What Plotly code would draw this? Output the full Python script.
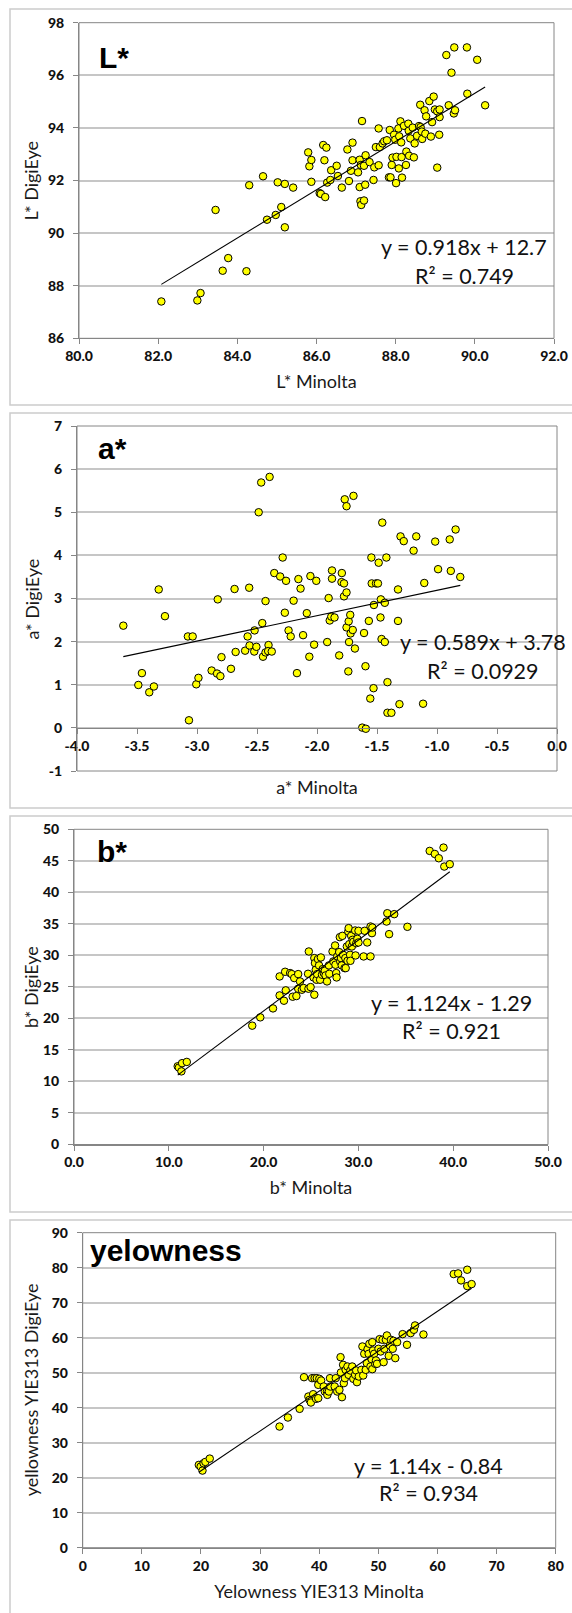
import plotly.graph_objects as go

W, H = 572, 1613

# ---------------- data ----------------
# Panel 1: L*
L_minolta = [82.08,82.99,83.07,83.45,83.63,83.77,84.23,84.30,84.65,84.75,84.97,85.02,85.11,85.20,85.20,85.41,85.79,85.82,85.87,85.87,
             86.08,86.11,86.17,86.20,86.22,86.25,86.27,86.35,86.37,86.51,86.54,86.64,86.78,86.82,86.91,86.87,86.91,87.05,87.09,87.09,
             87.15,87.11,87.13,87.20,87.12,87.20,87.23,87.24,87.34,87.46,87.44,87.50,87.57,87.57,87.60,87.67,87.71,87.78,87.83,87.87,
             87.85,87.90,87.92,87.96,87.99,88.02,88.01,88.07,88.09,88.08,88.12,88.14,88.15,88.16,88.21,88.26,88.27,88.32,88.33,88.34,
             88.37,88.43,88.46,88.48,88.54,88.59,88.62,88.63,88.66,88.67,88.73,88.75,88.77,88.85,88.89,88.92,88.96,88.99,89.05,89.05,
             89.10,89.11,89.11,89.28,89.34,89.41,89.48,89.47,89.50,89.80,89.81,90.06,90.26]
L_digieye = [87.40,87.44,87.72,90.88,88.57,89.05,88.55,91.82,92.16,90.51,90.69,91.93,90.99,91.87,90.22,91.73,93.07,92.54,92.78,91.95,
             91.52,91.49,93.35,92.77,91.37,93.25,91.92,92.02,92.39,92.56,92.17,91.73,93.18,91.98,93.44,92.37,92.77,92.31,92.79,91.75,
             94.26,91.21,91.07,91.24,92.59,92.56,91.84,92.96,92.70,92.50,92.02,93.27,93.98,92.58,93.27,93.41,93.49,93.53,92.12,92.12,
             93.92,92.59,92.87,93.74,93.55,92.90,91.90,93.98,93.68,92.46,94.25,93.45,92.89,92.11,94.08,92.59,93.10,94.16,93.89,92.94,
             93.60,94.01,92.88,93.41,93.70,94.07,94.88,94.03,93.86,93.58,94.67,93.78,94.44,95.02,93.67,94.22,95.19,94.70,92.49,94.63,
             93.74,94.41,94.70,96.77,94.86,96.10,97.06,94.55,94.67,97.06,95.30,96.59,94.86]
L_fit = (0.918, 12.7)

# Panel 2: a*
a_minolta = [-3.614,-3.489,-3.459,-3.398,-3.359,-3.319,-3.267,-3.076,-3.036,-3.067,-3.006,-2.988,-2.878,-2.833,-2.827,-2.805,-2.796,-2.717,-2.687,-2.678,
             -2.599,-2.578,-2.565,-2.562,-2.523,-2.520,-2.505,-2.486,-2.465,-2.456,-2.450,-2.429,-2.429,-2.404,-2.395,-2.407,-2.377,-2.356,-2.307,-2.286,
             -2.268,-2.258,-2.237,-2.219,-2.195,-2.167,-2.155,-2.137,-2.116,-2.085,-2.064,-2.055,-2.024,-2.006,-1.915,-1.903,-1.894,-1.881,-1.875,-1.875,
             -1.854,-1.815,-1.793,-1.796,-1.775,-1.775,-1.769,-1.754,-1.754,-1.754,-1.739,-1.736,-1.733,-1.723,-1.720,-1.696,-1.702,-1.684,-1.623,-1.593,
             -1.608,-1.596,-1.568,-1.556,-1.547,-1.544,-1.529,-1.526,-1.508,-1.492,-1.486,-1.471,-1.468,-1.462,-1.456,-1.435,-1.435,-1.422,-1.413,-1.413,
             -1.380,-1.325,-1.325,-1.313,-1.304,-1.277,-1.195,-1.173,-1.116,-1.106,-1.015,-0.991,-0.894,-0.885,-0.845,-0.806]
a_digieye = [2.37,0.995,1.27,0.825,0.96,3.21,2.59,2.12,2.12,0.176,1.01,1.16,1.33,1.26,2.98,1.20,1.64,1.37,3.22,1.76,
             1.79,2.12,3.25,1.91,1.77,2.26,1.88,5.00,5.69,2.43,1.65,2.94,1.75,1.92,5.82,1.78,1.77,3.59,3.51,3.95,
             2.67,3.41,2.26,2.12,2.95,1.27,3.45,3.23,2.15,2.66,1.65,3.52,1.93,3.41,1.99,3.01,2.49,2.58,3.65,3.46,
             2.56,1.68,3.59,3.38,3.35,3.05,5.30,5.14,3.14,2.33,1.31,2.47,1.99,2.62,2.19,5.38,2.27,1.84,0.006,-0.02,
             2.20,1.43,2.48,0.68,3.95,3.35,0.92,2.85,3.35,3.35,3.83,2.56,2.98,2.06,4.76,1.99,2.90,3.95,1.06,0.35,
             0.35,3.21,2.48,0.55,4.44,4.33,4.11,4.44,0.56,3.36,4.32,3.68,4.37,3.64,4.60,3.50]
a_fit = (0.589, 3.78)

# Panel 3: b*
b_minolta = [10.94,11.06,11.33,11.40,11.90,18.80,19.65,20.99,21.69,21.69,22.15,22.27,22.34,22.80,22.96,23.07,23.23,23.46,23.65,23.65,
             23.84,24.04,24.23,24.77,24.69,24.73,24.96,25.27,25.35,25.35,25.42,25.50,25.58,25.65,25.73,25.85,25.96,26.04,26.16,26.23,
             26.35,26.46,26.54,26.69,26.89,26.93,27.27,27.35,27.54,27.58,27.66,27.70,27.77,27.97,28.04,28.08,28.16,28.24,28.31,28.39,
             28.54,28.62,28.66,28.78,28.85,28.93,28.97,29.04,29.12,29.16,29.24,29.31,29.39,29.47,29.66,29.70,29.78,29.89,30.01,30.01,
             30.55,30.66,30.93,31.28,31.28,31.43,31.47,32.97,33.05,33.24,33.78,35.17,37.52,38.06,38.48,38.98,39.06,39.64]
b_digieye = [12.41,12.2,11.6,12.9,13.1,18.85,20.17,21.59,26.66,23.65,22.81,27.40,24.45,27.19,27.03,23.44,26.40,23.55,27.03,24.71,
             25.87,24.55,24.82,30.62,27.08,24.71,24.97,26.50,23.76,29.57,28.77,27.72,26.13,27.03,29.41,28.41,26.13,29.67,26.93,27.82,
             27.19,27.56,26.82,25.87,28.41,27.08,30.62,29.04,31.57,28.51,27.19,26.50,29.83,30.52,32.89,29.04,29.57,28.41,33.10,30.09,
             27.98,29.57,27.98,31.41,29.14,33.79,34.32,31.78,30.09,29.14,33.10,31.41,32.47,32.15,33.95,29.99,31.94,32.63,33.90,32.05,
             29.83,33.90,32.05,34.58,29.83,33.53,34.42,35.37,36.69,33.37,36.54,34.53,46.57,46.09,45.41,47.10,44.09,44.46]
b_fit = (1.124, -1.29)

# Panel 4: yellowness YIE313
yi_minolta = [19.64,19.95,20.26,20.44,20.75,21.49,33.29,34.71,36.69,37.43,38.17,38.36,38.60,38.79,38.98,39.22,39.47,39.59,39.84,39.84,
              40.02,40.33,40.77,40.95,41.32,41.38,41.63,41.82,41.88,42.62,42.80,43.05,43.42,43.61,43.67,43.85,44.04,44.16,44.35,44.47,
              44.78,44.97,45.27,45.58,45.77,46.08,46.26,46.39,46.70,47.13,47.31,47.44,47.62,47.87,48.05,48.18,48.36,48.49,48.67,48.86,
              48.98,48.98,49.10,49.29,49.48,49.60,49.78,50.03,50.22,50.40,50.71,50.90,51.02,51.27,51.45,51.76,51.95,52.13,52.44,52.56,
              52.87,53.18,54.11,54.85,55.47,56.02,56.21,57.63,62.75,63.50,63.99,65.04,65.04,65.78]
yi_digieye = [23.65,23.17,22.03,24.13,24.51,25.46,34.61,37.19,39.67,48.72,43.19,42.24,41.48,48.44,43.86,48.44,42.53,48.44,42.72,46.53,
              48.25,47.77,46.05,44.62,44.62,43.67,44.62,48.44,46.05,46.05,48.44,44.62,45.10,54.44,50.06,43.00,52.25,47.01,48.44,50.82,
              51.77,49.39,50.63,51.77,48.25,49.39,50.63,47.29,48.91,50.82,57.49,49.20,55.40,50.82,52.73,56.73,55.40,58.26,51.77,53.87,
              58.73,51.01,56.35,55.40,52.54,53.49,52.54,56.83,59.59,56.06,59.40,53.01,56.83,59.40,60.64,54.82,57.78,59.40,56.83,59.11,
              54.16,58.73,61.02,57.97,61.31,62.26,63.50,60.92,78.18,78.37,76.37,74.75,79.42,75.32]
yi_fit = (1.14, -0.84)

# tick definitions
L_xticks = [80, 82, 84, 86, 88, 90, 92]
L_xlabels = ["80.0", "82.0", "84.0", "86.0", "88.0", "90.0", "92.0"]
L_yticks = [86, 88, 90, 92, 94, 96, 98]
a_xticks = [-4, -3.5, -3, -2.5, -2, -1.5, -1, -0.5, 0]
a_xlabels = ["-4.0", "-3.5", "-3.0", "-2.5", "-2.0", "-1.5", "-1.0", "-0.5", "0.0"]
a_yticks = [-1, 0, 1, 2, 3, 4, 5, 6, 7]
a_ylabels = ["-1", "0", "1", "2", "3", "4", "5", "6", "7"]
b_xticks = [0, 10, 20, 30, 40, 50]
b_xlabels = ["0.0", "10.0", "20.0", "30.0", "40.0", "50.0"]
b_yticks = [0, 5, 10, 15, 20, 25, 30, 35, 40, 45, 50]
yi_xticks = [0, 10, 20, 30, 40, 50, 60, 70, 80]
yi_yticks = [0, 10, 20, 30, 40, 50, 60, 70, 80, 90]

# ---------------- styling / layout ----------------
TICKFONT = dict(family="Lato", size=14, color="#111111", weight=900)
TITLEFONT = dict(family="Lato", size=18, color="#1a1a1a")
EQFONT = dict(family="Lato", size=21.5, color="#111111")
BIGFONT = dict(family="Liberation Sans", size=30, color="#000000", weight="bold")
AXC = "#868686"
GRIDC = "#c6c6c6"

def px_x(v):
    return v / W

def px_y(v):
    return 1 - v / H

panels = [
    dict(x=L_minolta, y=L_digieye, fit=L_fit, xr=[80, 92], yr=[86, 98],
         xt=L_xticks, xl=L_xlabels, yt=L_yticks, yl=[str(v) for v in L_yticks],
         box=(79, 554, 22.7, 338.3), xtitle="L* Minolta", ytitle="L* DigiEye",
         label="L*", lab_xy=(97, 58), eq="y = 0.918x + 12.7", r2="R² = 0.749",
         eq_xy=(464, 247, 276), frame=(9, 405), xcross=None),
    dict(x=a_minolta, y=a_digieye, fit=a_fit, xr=[-4, 0], yr=[-1, 7],
         xt=a_xticks, xl=a_xlabels, yt=a_yticks, yl=a_ylabels,
         box=(77, 557, 426, 771), xtitle="a* Minolta", ytitle="a* DigiEye",
         label="a*", lab_xy=(96, 449), eq="y = 0.589x + 3.78", r2="R² = 0.0929",
         eq_xy=(483, 642, 671), frame=(413, 808), xcross=0),
    dict(x=b_minolta, y=b_digieye, fit=b_fit, xr=[0, 50], yr=[0, 50],
         xt=b_xticks, xl=b_xlabels, yt=b_yticks, yl=[str(v) for v in b_yticks],
         box=(74, 548, 829.3, 1144.5), xtitle="b* Minolta", ytitle="b* DigiEye",
         label="b*", lab_xy=(95, 851), eq="y = 1.124x - 1.29", r2="R² = 0.921",
         eq_xy=(451, 1003, 1031), frame=(816, 1212), xcross=None),
    dict(x=yi_minolta, y=yi_digieye, fit=yi_fit, xr=[0, 80], yr=[0, 90],
         xt=yi_xticks, xl=[str(v) for v in yi_xticks], yt=yi_yticks, yl=[str(v) for v in yi_yticks],
         box=(82.7, 555.7, 1232.7, 1547.7), xtitle="Yelowness YIE313 Minolta",
         ytitle="yellowness YIE313 DigiEye",
         label="yelowness", lab_xy=(88, 1250), eq="y = 1.14x - 0.84", r2="R² = 0.934",
         eq_xy=(428, 1466, 1493), frame=(1220, 1640), xcross=None),
]

fig = go.Figure()
layout = dict(width=W, height=H, margin=dict(l=0, r=0, t=0, b=0),
              paper_bgcolor="white", plot_bgcolor="white", showlegend=False)
shapes = []
annotations = []

for i, p in enumerate(panels, start=1):
    xa = "x" if i == 1 else f"x{i}"
    ya = "y" if i == 1 else f"y{i}"
    xkey = "xaxis" if i == 1 else f"xaxis{i}"
    ykey = "yaxis" if i == 1 else f"yaxis{i}"
    l, r, t, b = p["box"]
    xdom = [px_x(l), px_x(r)]
    ydom = [px_y(b), px_y(t)]

    # outer panel frame
    shapes.append(dict(type="rect", xref="paper", yref="paper",
                       x0=px_x(10), x1=1.05, y0=px_y(p["frame"][1]), y1=px_y(p["frame"][0]),
                       line=dict(color="#cccccc", width=1.5), layer="below"))

    # scatter points
    fig.add_trace(go.Scatter(x=p["x"], y=p["y"], mode="markers", xaxis=xa, yaxis=ya,
                             marker=dict(size=7.5, color="#FFFF00",
                                         line=dict(color="#000000", width=1)),
                             hoverinfo="x+y"))
    # linear trendline from fit coefficients
    slope, icpt = p["fit"]
    xs = [min(p["x"]), max(p["x"])]
    fig.add_trace(go.Scatter(x=xs, y=[slope * v + icpt for v in xs], mode="lines",
                             xaxis=xa, yaxis=ya, line=dict(color="#000000", width=1.1),
                             hoverinfo="skip"))

    xaxis = dict(domain=xdom, range=p["xr"], tickvals=p["xt"], ticktext=p["xl"],
                 showgrid=False, zeroline=False, showline=True, linecolor=AXC, linewidth=1,
                 ticks="outside", ticklen=5, tickcolor=AXC, tickfont=TICKFONT,
                 ticklabeloverflow="allow",
                 title=dict(text=p["xtitle"], font=TITLEFONT, standoff=12), automargin=False,
                 fixedrange=True)
    if p["xcross"] is not None:
        frac = (p["xcross"] - p["yr"][0]) / (p["yr"][1] - p["yr"][0])
        xaxis.update(anchor="free", position=ydom[0] + frac * (ydom[1] - ydom[0]))
        xaxis["title"]["standoff"] = 28
    else:
        xaxis.update(anchor=ya)
    yaxis = dict(domain=ydom, range=p["yr"], tickvals=p["yt"], ticktext=p["yl"], anchor=xa,
                 showgrid=True, gridcolor=GRIDC, gridwidth=1.5, zeroline=False,
                 showline=True, linecolor=AXC, linewidth=1,
                 ticks="outside", ticklen=5, tickcolor=AXC, tickfont=TICKFONT,
                 ticklabelstandoff=6, ticklabeloverflow="allow",
                 automargin=False, fixedrange=True)
    layout[xkey] = xaxis
    layout[ykey] = yaxis

    # y-axis title (rotated), centred on the plot area
    annotations.append(dict(text=p["ytitle"], xref="paper", yref="paper",
                            x=px_x(31), y=px_y((t + b) / 2), textangle=-90,
                            xanchor="center", yanchor="middle", showarrow=False, font=TITLEFONT))

    # plot-area border
    shapes.append(dict(type="rect", xref=f"{xa} domain", yref=f"{ya} domain",
                       x0=0, x1=1, y0=0, y1=1, line=dict(color=AXC, width=1), layer="above"))

    # panel label
    lx, ly = p["lab_xy"]
    annotations.append(dict(text=p["label"], xref="paper", yref="paper", x=px_x(lx), y=px_y(ly),
                            xanchor="left", yanchor="middle", showarrow=False, font=BIGFONT))
    # equation + R2
    ex, ey1, ey2 = p["eq_xy"]
    annotations.append(dict(text=p["eq"], xref="paper", yref="paper", x=px_x(ex), y=px_y(ey1),
                            xanchor="center", yanchor="middle", showarrow=False, font=EQFONT))
    annotations.append(dict(text=p["r2"], xref="paper", yref="paper", x=px_x(ex), y=px_y(ey2),
                            xanchor="center", yanchor="middle", showarrow=False, font=EQFONT))

layout["shapes"] = shapes
layout["annotations"] = annotations
fig.update_layout(**layout)
fig.write_html("out.html", config={"displayModeBar": False},
               post_script="document.body.style.margin='0px';document.body.style.overflow='hidden';")
